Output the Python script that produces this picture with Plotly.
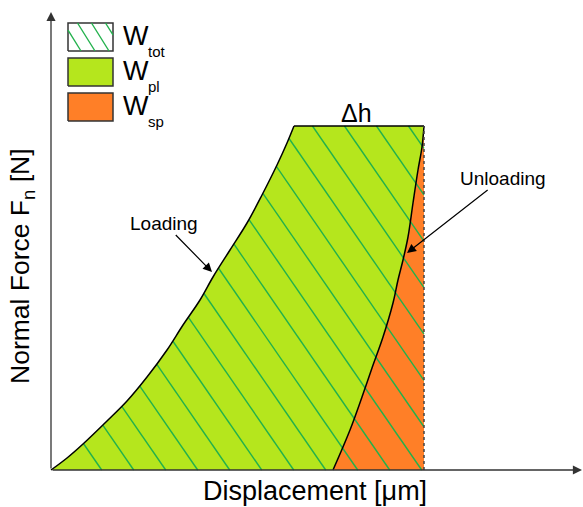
import numpy as np
import plotly.graph_objects as go

# ---- data (arbitrary units, origin at axes corner) ----
load_x = [0, 16, 32, 56, 76, 96, 116, 132, 149, 162, 179, 196, 211, 226, 236, 243]
load_y = [0, 12, 26, 49, 69, 93, 120, 145, 170, 193, 220, 247, 275, 305, 327, 344]
unload_x = [373, 371, 367, 362, 357, 352, 347, 342, 332, 321, 311, 299, 282]
unload_y = [344, 323, 300, 267, 233, 210, 190, 167, 133, 102, 73, 40, 0]
h_max = 344
x_max = 373
legend_main = ["W", "W", "W"]
legend_subs = ["tot", "pl", "sp"]

LIME = "#B5E61D"
ORANGE = "#FF7F27"
HATCH = "#22B14C"
FONT = "Liberation Sans, Arial, sans-serif"

fig = go.Figure()


def hatch_lines(xmin_fn, xmax_fn, ylo, yhi, spacing, offset, slope=1.45):
    xs, ys = [], []
    yy = np.linspace(ylo, yhi, 800)
    lo = np.array([xmin_fn(v) for v in yy])
    hi = np.array([xmax_fn(v) for v in yy])
    b = offset
    while b - (yhi - ylo) / slope > lo.min() - spacing:
        b -= spacing
    while b - (yhi - ylo) / slope <= hi.max() + spacing:
        xx = b - (yy - ylo) / slope
        m = (xx >= lo) & (xx <= hi)
        idx = np.nonzero(m)[0]
        if len(idx) > 1:
            i0, i1 = idx[0], idx[-1]
            xs += [xx[i0], xx[i1], None]
            ys += [yy[i0], yy[i1], None]
        b += spacing
    return xs, ys


# W_pl region
fig.add_trace(go.Scatter(
    x=load_x + unload_x + [0], y=load_y + unload_y + [0],
    fill="toself", fillcolor=LIME, mode="none", hoverinfo="skip"))
# W_sp region
fig.add_trace(go.Scatter(
    x=unload_x + [x_max, x_max], y=unload_y + [0, h_max],
    fill="toself", fillcolor=ORANGE, mode="none", hoverinfo="skip"))

# hatch for W_tot
ly = np.array(load_y, float)
lx = np.array(load_x, float)
hx, hy = hatch_lines(lambda v: np.interp(v, ly, lx), lambda v: x_max,
                     0, h_max, 32, 50.7)
fig.add_trace(go.Scatter(x=hx, y=hy, mode="lines",
                         line=dict(color=HATCH, width=1.4), hoverinfo="skip"))

# outlines
fig.add_trace(go.Scatter(x=load_x, y=load_y, mode="lines",
                         line=dict(color="black", width=1.5, shape="spline"),
                         hoverinfo="skip"))
fig.add_trace(go.Scatter(x=[load_x[-1], x_max], y=[h_max, h_max], mode="lines",
                         line=dict(color="black", width=1.5), hoverinfo="skip"))
fig.add_trace(go.Scatter(x=unload_x, y=unload_y, mode="lines",
                         line=dict(color="black", width=1.5, shape="spline"),
                         hoverinfo="skip"))
fig.add_trace(go.Scatter(x=[x_max, x_max], y=[0, h_max], mode="lines",
                         line=dict(color="#444", width=1.5, dash="dot"),
                         hoverinfo="skip"))

# legend boxes
boxes = [(419, 447), (384, 412), (349, 377)]
fills = ["white", LIME, ORANGE]
for (y0, y1), fc in zip(boxes, fills):
    fig.add_trace(go.Scatter(x=[17, 62, 62, 17, 17], y=[y0, y0, y1, y1, y0],
                             fill="toself", fillcolor=fc, mode="lines",
                             line=dict(color="#333", width=1.5), hoverinfo="skip"))
bx, by = hatch_lines(lambda v: 17, lambda v: 62, 419, 447, 14, 30, slope=1.6)
fig.add_trace(go.Scatter(x=bx, y=by, mode="lines",
                         line=dict(color=HATCH, width=1.4), hoverinfo="skip"))
for (y0, y1), main, sub in zip(boxes, legend_main, legend_subs):
    yc = (y0 + y1) / 2
    fig.add_annotation(x=70, y=yc + 1, text=main, showarrow=False,
                       xanchor="left", yanchor="middle",
                       font=dict(size=27, color="black", family=FONT))
    fig.add_annotation(x=95, y=yc - 14, text=sub, showarrow=False,
                       xanchor="left", yanchor="middle",
                       font=dict(size=15, color="black", family=FONT))

# axes arrows
fig.add_annotation(x=0, y=458, ax=0, ay=0, xref="x", yref="y", axref="x", ayref="y",
                   text="", showarrow=True, arrowhead=2, arrowsize=1.4,
                   arrowwidth=1.3, arrowcolor="#333")
fig.add_annotation(x=531, y=0, ax=0, ay=0, xref="x", yref="y", axref="x", ayref="y",
                   text="", showarrow=True, arrowhead=2, arrowsize=1.4,
                   arrowwidth=1.3, arrowcolor="#333")

# axis titles
fig.add_annotation(x=-29, y=204, text="Normal Force F<sub>n</sub> [N]", textangle=-90,
                   showarrow=False, font=dict(size=26.5, color="black", family=FONT))
fig.add_annotation(x=264, y=-21, text="Displacement [μm]", showarrow=False,
                   font=dict(size=27, color="black", family=FONT))

# labels
fig.add_annotation(x=305, y=357, text="Δh", showarrow=False,
                   font=dict(size=25, color="black", family=FONT))
fig.add_annotation(x=161, y=198, ax=113, ay=247, axref="x", ayref="y",
                   text="Loading", showarrow=True, arrowhead=2, arrowsize=1.5,
                   arrowwidth=1.2, arrowcolor="black",
                   font=dict(size=19, color="black", family=FONT))
fig.add_annotation(x=356, y=217, ax=452, ay=292, axref="x", ayref="y",
                   text="Unloading", showarrow=True, arrowhead=2, arrowsize=1.5,
                   arrowwidth=1.2, arrowcolor="black",
                   font=dict(size=19, color="black", family=FONT))

fig.update_layout(
    width=583, height=507, autosize=False,
    margin=dict(l=0, r=0, t=0, b=0),
    paper_bgcolor="white", plot_bgcolor="white",
    showlegend=False,
    xaxis=dict(range=[-51, 532], visible=False, fixedrange=True),
    yaxis=dict(range=[-37, 470], visible=False, fixedrange=True),
)

fig.write_html("out.html")
